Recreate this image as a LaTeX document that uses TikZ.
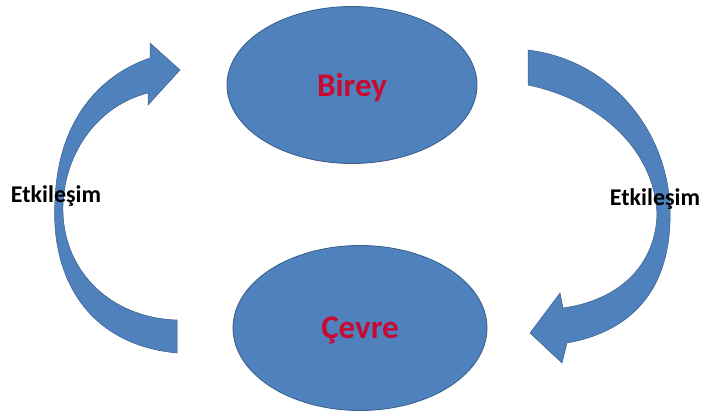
\documentclass[tikz,border=0pt]{standalone}
\usepackage{fontspec}
\setmainfont{Carlito}
\definecolor{shapeblue}{RGB}{79,129,189}
\definecolor{edgeblue}{RGB}{56,93,138}
\definecolor{labelred}{RGB}{200,10,50}
\tikzset{
  blob/.style={ellipse, fill=shapeblue, draw=edgeblue, line width=0.8pt, inner sep=0pt},
  bigtext/.style={text=labelred, font=\fontsize{33}{38}\selectfont\bfseries},
  sidetext/.style={text=black, font=\fontsize{24}{28}\selectfont\bfseries},
  bentarrow/.style={fill=shapeblue, draw=edgeblue, line width=0.5pt, line join=miter}
}
\usetikzlibrary{shapes.geometric}
\begin{document}
\begin{tikzpicture}[x=1pt,y=-1pt]
\useasboundingbox (0,0) rectangle (704,412);
% left curved arrow (up towards Birey)
\filldraw[bentarrow] (177,353) .. controls (90,345) and (50,280) .. (55,200)
  .. controls (58,120) and (100,75) .. (150,58)
  -- (150,43) -- (180,70) -- (148,105) -- (148,93)
  .. controls (100,105) and (65,150) .. (63,205)
  .. controls (61,270) and (110,318) .. (177,320) -- cycle;
% right curved arrow (down towards Cevre)
\filldraw[bentarrow] (528,50) .. controls (610,60) and (668,130) .. (670,210)
  .. controls (672,280) and (640,330) .. (567,343)
  -- (562,363) -- (530,333) -- (560,293) -- (563,308)
  .. controls (620,300) and (655,265) .. (657,215)
  .. controls (655,150) and (600,100) .. (528,85) -- cycle;
\node[blob, minimum width=250pt, minimum height=157pt] (birey) at (352,85) {};
\node[blob, minimum width=254pt, minimum height=165pt] (cevre) at (360,328) {};
\node[bigtext] (bireyt) at (352,88) {Birey};
\node[bigtext] (cevret) at (360,330) {Çevre};
\node[sidetext] (leftlab) at (56,196) {Etkileşim};
\node[sidetext] (rightlab) at (655,199) {Etkileşim};
\end{tikzpicture}
\end{document}
